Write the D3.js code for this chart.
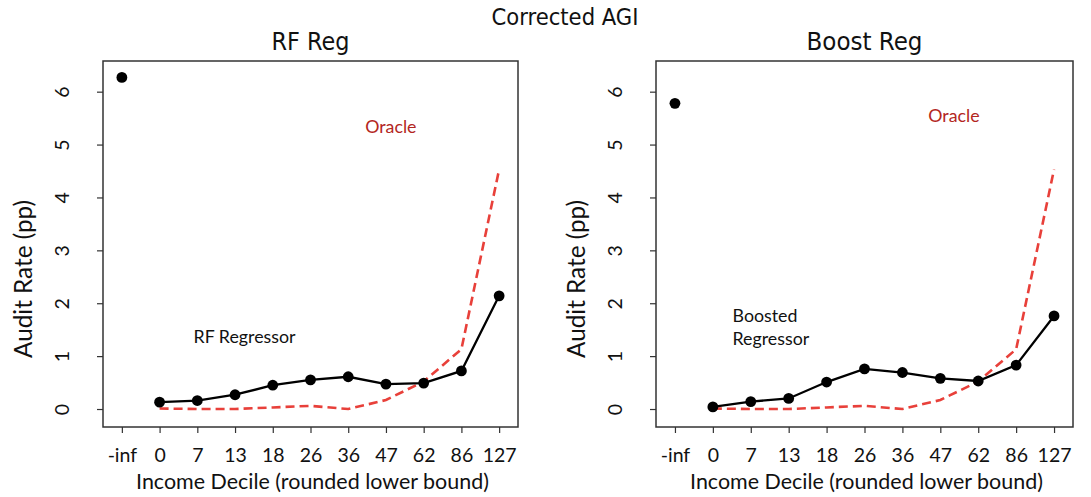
<!DOCTYPE html>
<html>
<head>
<meta charset="utf-8">
<title>Corrected AGI</title>
<script src="https://cdn.jsdelivr.net/npm/d3@7/dist/d3.min.js"></script>
<style>
  body { margin: 0; background: #fff; }
  svg text { font-family: Lato, "Open Sans", sans-serif; fill: #111; }
  .ttl { font-family: "DejaVu Sans Condensed", "DejaVu Sans", sans-serif; font-stretch: condensed; }
</style>
</head>
<body>
<script>
// data
var deciles = ["-inf", "0", "7", "13", "18", "26", "36", "47", "62", "86", "127"];
var rfReg = [6.27, 0.13, 0.16, 0.27, 0.45, 0.55, 0.61, 0.47, 0.49, 0.72, 2.14];
var boostReg = [5.78, 0.04, 0.14, 0.20, 0.51, 0.76, 0.69, 0.58, 0.53, 0.83, 1.76];
var oracle = [null, 0.01, 0.00, 0.00, 0.03, 0.06, 0.00, 0.17, 0.52, 1.13, 4.53];
var yTicks = [0, 1, 2, 3, 4, 5, 6];

var W = 1091, H = 497;
var svg = d3.select("body").append("svg").attr("width", W).attr("height", H);

// scale the font so a text fills a given width
function fit(sel, w) {
    var n = sel.node(), fs = parseFloat(sel.attr("font-size"));
    var len = n.getComputedTextLength();
    sel.attr("font-size", (fs * w / len).toFixed(2));
}

var tickFont = 19.5, noteFont = 17.8;

svg.append("text").attr("class", "ttl")
    .attr("x", 565).attr("y", 25).attr("text-anchor", "middle")
    .attr("font-size", 22).text("Corrected AGI")
    .call(fit, 147);

var panels = [
    {title: "RF Reg", tw: 78, left: 103, right: 518, vals: rfReg,
     notes: [{t: ["RF Regressor"], x: 1.9, y: 1.25}], oracle: {x: 7.13, y: 5.22}},
    {title: "Boost Reg", tw: 116, left: 656, right: 1073, vals: boostReg,
     notes: [{t: ["Boosted", "Regressor"], x: 1.52, y: 1.65}], oracle: {x: 7.36, y: 5.43}}
];
var plotTop = 61, plotBottom = 427;

panels.forEach(function (p) {
    var g = svg.append("g");
    var x = d3.scaleLinear().domain([-0.5, 10.5]).range([p.left, p.right]);
    var y = d3.scaleLinear().domain([-0.34, 6.58]).range([plotBottom, plotTop]);
    var cx = (p.left + p.right) / 2;

    g.append("text").attr("class", "ttl")
        .attr("x", cx).attr("y", 50).attr("text-anchor", "middle")
        .attr("font-size", 21).text(p.title)
        .call(fit, p.tw);

    // axes
    var xa = g.append("g").attr("transform", "translate(0," + plotBottom + ")")
        .call(d3.axisBottom(x).tickValues(d3.range(deciles.length))
            .tickFormat(function (i) { return deciles[i]; }).tickSize(6).tickPadding(15));
    var ya = g.append("g").attr("transform", "translate(" + p.left + ",0)")
        .call(d3.axisLeft(y).tickValues(yTicks).tickSize(6).tickFormat(d3.format("d")));
    [xa, ya].forEach(function (a) {
        a.select(".domain").remove();
        a.selectAll("line").attr("stroke", "#333").attr("stroke-width", 1.2);
        a.selectAll("text").attr("font-size", tickFont).attr("fill", "#111")
            .attr("font-family", "Lato, sans-serif");
    });
    ya.selectAll("text")
        .attr("x", null).attr("dy", null).attr("text-anchor", "middle")
        .attr("transform", "translate(-28,0) rotate(-90) translate(0,-6)");

    g.append("rect")
        .attr("x", p.left).attr("y", plotTop)
        .attr("width", p.right - p.left).attr("height", plotBottom - plotTop)
        .attr("fill", "none").attr("stroke", "#333").attr("stroke-width", 1.5);

    g.append("text")
        .attr("x", cx + 2).attr("y", 489).attr("text-anchor", "middle")
        .attr("font-size", 20).text("Income Decile (rounded lower bound)")
        .call(fit, 353);
    g.append("text")
        .attr("transform", "translate(" + (p.left - 71) + ",279) rotate(-90)")
        .attr("text-anchor", "middle")
        .attr("font-size", 20).text("Audit Rate (pp)")
        .call(fit, 158);

    // oracle dashed line
    var od = oracle.map(function (v, i) { return {i: i, v: v}; }).filter(function (d) { return d.v !== null; });
    g.append("path").datum(od)
        .attr("fill", "none").attr("stroke", "#e8403a").attr("stroke-width", 2.6)
        .attr("stroke-dasharray", "9,5")
        .attr("d", d3.line().x(function (d) { return x(d.i); }).y(function (d) { return y(d.v); }));

    // model line (skip -inf)
    var md = p.vals.map(function (v, i) { return {i: i, v: v}; });
    g.append("path").datum(md.slice(1))
        .attr("fill", "none").attr("stroke", "#000").attr("stroke-width", 2.3)
        .attr("d", d3.line().x(function (d) { return x(d.i); }).y(function (d) { return y(d.v); }));
    g.selectAll("circle").data(md).enter().append("circle")
        .attr("cx", function (d) { return x(d.i); })
        .attr("cy", function (d) { return y(d.v); })
        .attr("r", 5.4).attr("fill", "#000");

    // annotations
    g.append("text")
        .attr("x", x(p.oracle.x)).attr("y", y(p.oracle.y)).attr("text-anchor", "middle")
        .attr("font-size", noteFont).style("fill", "#b3261e").text("Oracle");
    p.notes.forEach(function (n) {
        n.t.forEach(function (s, k) {
            g.append("text")
                .attr("x", x(n.x)).attr("y", y(n.y) + k * 23.5)
                .attr("font-size", noteFont).text(s);
        });
    });
});
</script>
</body>
</html>
